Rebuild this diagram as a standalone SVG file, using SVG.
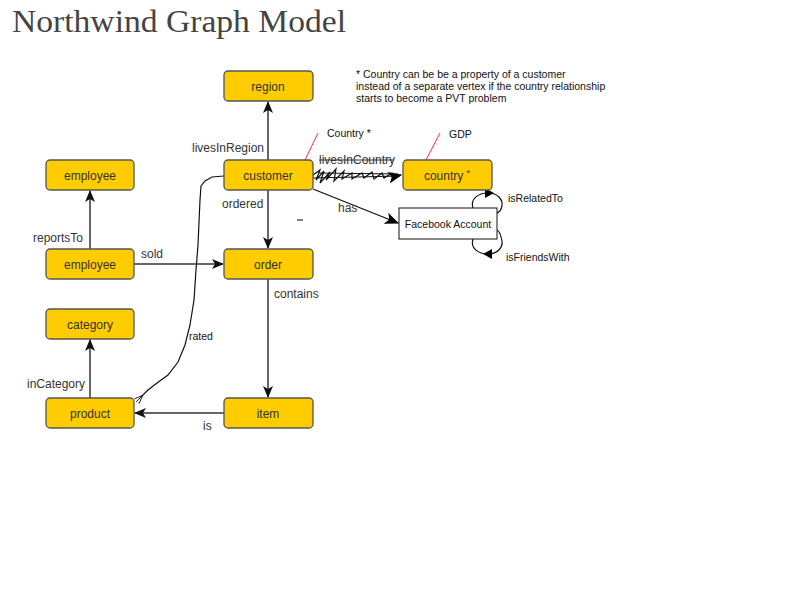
<svg xmlns="http://www.w3.org/2000/svg" width="800" height="600" viewBox="0 0 800 600">
<style>
.node rect{fill:#FFCC00;stroke:#555;stroke-width:1.3}
.node text,.lbl{font-family:"Liberation Sans",Arial,sans-serif;font-size:12px;fill:#333}
.node text{text-anchor:middle}
.note{font-family:"Liberation Sans",Arial,sans-serif;font-size:10.5px;fill:#111}
.edge{stroke:#666;stroke-width:2;fill:none}
.blk{stroke:#111;stroke-width:1.2;fill:none}
.red{stroke:#f33;stroke-width:1}
</style>
<defs>
<marker id="ag" viewBox="0 0 12 12" refX="11" refY="6" markerWidth="12" markerHeight="12" markerUnits="userSpaceOnUse" orient="auto">
<path d="M0,1 L12,6 L0,11 L3,6 Z" fill="#111"/>
</marker>
<marker id="ab" viewBox="0 0 12 12" refX="11" refY="6" markerWidth="14" markerHeight="14" markerUnits="userSpaceOnUse" orient="auto">
<path d="M0,1 L12,6 L0,11 L3,6 Z" fill="#000"/>
</marker>
<marker id="ah" viewBox="0 0 12 12" refX="1" refY="6" markerWidth="10" markerHeight="10" markerUnits="userSpaceOnUse" orient="auto">
<path d="M0,6 L10,2 M0,6 L10,10 M0,6 L11,6" stroke="#000" stroke-width="1" fill="none"/>
</marker>
</defs>
<rect width="800" height="600" fill="#fff"/>
<text x="12" y="32" font-family="'Liberation Serif','DejaVu Serif',serif" font-size="31" fill="#444" textLength="334" lengthAdjust="spacingAndGlyphs">Northwind Graph Model</text>

<g id="connectors">
<line class="edge" x1="268" y1="160" x2="268" y2="102" marker-end="url(#ag)"/>
<text class="lbl" x="192" y="152">livesInRegion</text>
<line class="edge" x1="268" y1="190" x2="268" y2="248" marker-end="url(#ag)"/>
<text class="lbl" x="222" y="208">ordered</text>
<line class="edge" x1="90" y1="249" x2="90" y2="191" marker-end="url(#ag)"/>
<text class="lbl" x="33" y="242">reportsTo</text>
<line class="edge" x1="134" y1="264" x2="223" y2="264" marker-end="url(#ag)"/>
<text class="lbl" x="141" y="258">sold</text>
<line class="edge" x1="268" y1="279" x2="268" y2="397" marker-end="url(#ag)"/>
<text class="lbl" x="274" y="298">contains</text>
<line class="edge" x1="224" y1="413" x2="135" y2="413" marker-end="url(#ag)"/>
<text class="lbl" x="203" y="430">is</text>
<line class="edge" x1="90" y1="398" x2="90" y2="340" marker-end="url(#ag)"/>
<text class="lbl" x="27" y="388">inCategory</text>

<line class="blk" x1="313" y1="189" x2="398" y2="223" marker-end="url(#ab)"/>
<text class="lbl" x="338" y="212">has</text>

<path class="blk" d="M313,175 L320,170 L316,180 L324,171 L320,183 L330,172 L326,180 L336,169 L334,181 L344,171 L342,179 L352,173 L352,179 L362,173 L364,178 L372,172 L374,179 L382,173 L384,178 L392,173 L392,177 L401,175" marker-end="url(#ab)"/>
<path class="blk" d="M312,178 L400,176 M318,173 L398,174" stroke-width="0.8"/>
<text class="lbl" x="319" y="164">livesInCountry</text>
<line x1="319" y1="160" x2="394" y2="160" stroke="#333" stroke-width="1"/>

<path class="blk" d="M473,208 C470,199 478,193 488,193 C498,193 503,200 502,206 C501,210 500,212 497,213"/>
<path d="M485,188 L494,193 L485,198 Z" fill="#000"/>
<text class="note" x="508" y="202">isRelatedTo</text>
<path class="blk" d="M473,239 C470,248 478,254 488,254 C498,254 503,247 502,241 C501,236 500,231 497,230"/>
<path d="M492,249 L483,254 L492,259 Z" fill="#000"/>
<text class="note" x="506" y="261">isFriendsWith</text>

<path class="blk" d="M224,176 L212,177 L205,181 L201,186 L200,200 L199,222 L198,245 L196,270 L194,300 L190,325 L185,345 L178,362 L168,375 L157,383 L148,390 L142,396" marker-end="url(#ah)" stroke-width="1"/>
<text class="note" x="189" y="340">rated</text>

<line class="red" x1="305" y1="160" x2="318" y2="133"/>
<text class="note" x="327" y="137">Country *</text>
<line class="red" x1="426" y1="160" x2="440" y2="133"/>
<text class="note" x="449" y="138">GDP</text>
<line x1="297" y1="220" x2="303" y2="220" stroke="#000" stroke-width="1"/>
</g>

<text class="note" x="356" y="78">* Country can be be a property of a customer</text>
<text class="note" x="356" y="90">instead of a separate vertex if the country relationship</text>
<text class="note" x="356" y="102">starts to become a PVT problem</text>

<g id="region" class="node"><rect x="224" y="71" width="89" height="30" rx="4"/><text x="268" y="91">region</text></g>
<g id="customer" class="node"><rect x="224" y="160" width="89" height="30" rx="4"/><text x="268" y="180">customer</text></g>
<g id="country" class="node"><rect x="403" y="160" width="89" height="30" rx="4"/><text x="447" y="180">country <tspan font-size="9" dy="-4">*</tspan></text></g>
<g id="employee1" class="node"><rect x="46" y="160" width="88" height="30" rx="4"/><text x="90" y="180">employee</text></g>
<g id="employee2" class="node"><rect x="46" y="249" width="88" height="30" rx="4"/><text x="90" y="269">employee</text></g>
<g id="order" class="node"><rect x="224" y="249" width="89" height="30" rx="4"/><text x="268" y="269">order</text></g>
<g id="category" class="node"><rect x="46" y="309" width="88" height="30" rx="4"/><text x="90" y="329">category</text></g>
<g id="product" class="node"><rect x="46" y="398" width="88" height="30" rx="4"/><text x="90" y="418">product</text></g>
<g id="item" class="node"><rect x="224" y="398" width="89" height="30" rx="4"/><text x="268" y="418">item</text></g>
<g id="facebook"><rect x="399" y="208" width="98" height="31" fill="#fff" stroke="#111" stroke-width="1"/><text x="448" y="228" text-anchor="middle" font-family="'Liberation Sans',Arial,sans-serif" font-size="10.5" fill="#111">Facebook Account</text></g>
</svg>
